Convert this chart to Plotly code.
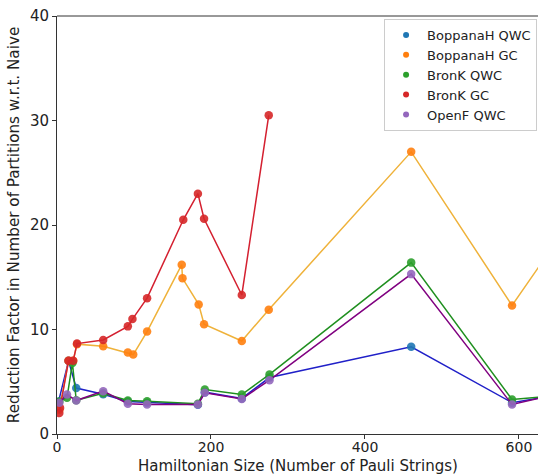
import plotly.graph_objects as go

# Hamiltonian sizes (number of Pauli strings) and reduction factors per method
boppana_qwc_x = [2, 15, 25, 60, 92, 117, 183, 192, 240, 276, 460, 591, 631]
boppana_qwc_y = [3.1, 7.0, 4.4, 3.8, 3.1, 3.0, 2.8, 4.0, 3.4, 5.4, 8.35, 3.0, 3.5]

boppana_gc_x = [3, 15, 21, 26, 60, 92, 99, 117, 162, 163, 184, 191, 240, 275, 460, 591, 631]
boppana_gc_y = [2.3, 7.0, 7.0, 8.6, 8.4, 7.8, 7.6, 9.8, 16.2, 14.9, 12.4, 10.5, 8.9, 11.9, 27.0, 12.3, 16.55]

bronk_qwc_x = [3, 13, 20, 25, 60, 92, 117, 183, 192, 240, 276, 460, 591, 631]
bronk_qwc_y = [3.1, 3.46, 6.8, 3.23, 3.9, 3.2, 3.14, 2.9, 4.25, 3.78, 5.7, 16.4, 3.3, 3.55]

bronk_gc_x = [3, 4, 15, 21, 26, 60, 92, 98, 117, 164, 183, 191, 240, 275]
bronk_gc_y = [2.0, 2.5, 7.0, 7.0, 8.65, 9.0, 10.3, 11.0, 13.0, 20.5, 23.0, 20.6, 13.3, 30.5]

openf_qwc_x = [3, 13, 25, 60, 92, 117, 183, 192, 240, 276, 460, 591, 631]
openf_qwc_y = [3.0, 3.78, 3.2, 4.1, 2.9, 2.82, 2.82, 3.94, 3.36, 5.15, 15.3, 2.82, 3.5]

series_names = ["BoppanaH QWC", "BoppanaH GC", "BronK QWC", "BronK GC", "OpenF QWC"]
marker_colors = ["#1f77b4", "#ff7f0e", "#2ca02c", "#d62728", "#9467bd"]
line_colors = ["#2020c8", "#efb23a", "#1f8f1f", "#d42030", "#800080"]

x_ticks = [0, 200, 400, 600]
y_ticks = [0, 10, 20, 30, 40]

x_title = "Hamiltonian Size (Number of Pauli Strings)"
y_title = "Reduction Factor in Number of Partitions w.r.t. Naive"

data = [
    (boppana_qwc_x, boppana_qwc_y),
    (boppana_gc_x, boppana_gc_y),
    (bronk_qwc_x, bronk_qwc_y),
    (bronk_gc_x, bronk_gc_y),
    (openf_qwc_x, openf_qwc_y),
]

fig = go.Figure()

for (xs, ys), name, mc, lc in zip(data, series_names, marker_colors, line_colors):
    fig.add_trace(go.Scatter(
        x=xs, y=ys, mode="lines", line=dict(color=lc, width=1.5),
        showlegend=False, hoverinfo="skip", cliponaxis=True,
    ))
    fig.add_trace(go.Scatter(
        x=xs, y=ys, mode="markers", name=name,
        marker=dict(color=mc, size=8.5, opacity=0.9, line=dict(width=0)),
        showlegend=False, cliponaxis=True,
    ))

# legend entries with small dots
for name, mc in zip(series_names, marker_colors):
    fig.add_trace(go.Scatter(
        x=[None], y=[None], mode="markers", name=name,
        marker=dict(color=mc, size=6),
    ))

font_family = "DejaVu Sans, Arial, sans-serif"

fig.update_layout(
    width=538, height=475,
    margin=dict(l=57, r=0, t=16, b=41, autoexpand=False),
    paper_bgcolor="white", plot_bgcolor="white",
    font=dict(family=font_family, color="#222", size=15),
    legend=dict(
        x=0.68, y=0.993, xanchor="left", yanchor="top",
        bgcolor="white", bordercolor="#cccccc", borderwidth=1,
        font=dict(size=13, color="#222"),
        tracegroupgap=0, itemwidth=32,
    ),
    xaxis=dict(
        range=[0, 624.7], tickvals=x_ticks, ticks="outside", ticklen=4,
        tickcolor="#333", showline=True, linecolor="#333", linewidth=1,
        mirror=False, showgrid=False, zeroline=False, automargin=False,
        tickfont=dict(size=14), ticklabelstandoff=-4,
    ),
    yaxis=dict(
        range=[0, 40], tickvals=y_ticks, ticks="outside", ticklen=4,
        tickcolor="#333", showline=True, linecolor="#333", linewidth=1,
        showgrid=False, zeroline=False, automargin=False,
        tickfont=dict(size=15),
        title=dict(text=y_title, font=dict(size=15.2), standoff=6),
    ),
    annotations=[dict(
        text=x_title, xref="paper", yref="paper", x=0.5, y=-0.0505,
        xanchor="center", yanchor="top", showarrow=False,
        font=dict(size=15, color="#222"),
    )],
    shapes=[dict(type="line", xref="paper", yref="paper", x0=0, x1=1, y0=1, y1=1,
                 line=dict(color="#333", width=1))],
)

fig.write_html("out.html")
